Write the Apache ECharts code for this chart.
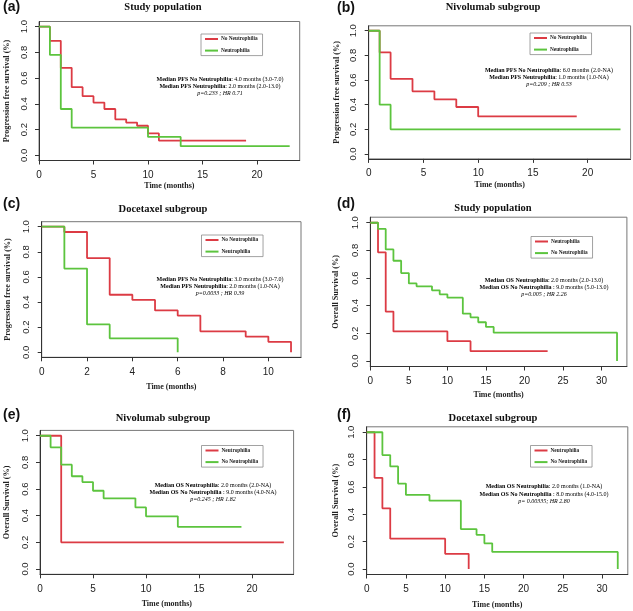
<!DOCTYPE html>
<html>
<head>
<meta charset="utf-8">
<script src="https://cdn.jsdelivr.net/npm/echarts@6/dist/echarts.min.js"></script>
<style>
html,body{margin:0;padding:0;background:#fff;}
#chart{width:633px;height:611px;}
</style>
</head>
<body>
<div id="chart"></div>
<script>
// ---- Data: Kaplan-Meier steps [time (months), survival] ----
const pfsStudyNoNeut = [[0,1],[1,0.89],[2,0.68],[3,0.53],[4,0.46],[5,0.41],[6,0.36],[7,0.28],[8,0.255],[9,0.23],[10,0.17],[11,0.115],[19,0.115]];
const pfsStudyNeut   = [[0,1],[1,0.78],[2,0.36],[3,0.215],[10,0.143],[13,0.071],[23,0.071]];
const pfsNivoNoNeut  = [[0,1],[1,0.824],[2,0.61],[4,0.508],[6,0.443],[8,0.381],[10,0.305],[19,0.305]];
const pfsNivoNeut    = [[0,1],[1,0.4],[2,0.2],[23,0.2]];
const pfsDoceNoNeut  = [[0,1],[1,0.958],[2,0.75],[3,0.458],[4,0.417],[5,0.333],[6,0.292],[7,0.167],[9,0.125],[10,0.083],[11,0]];
const pfsDoceNeut    = [[0,1],[1,0.667],[2,0.222],[3,0.111],[6,0]];
const osStudyNeut    = [[0,1],[1,0.786],[2,0.357],[3,0.214],[10,0.143],[13,0.071],[23,0.071]];
const osStudyNoNeut  = [[0,1],[1,0.955],[2,0.807],[3,0.725],[4,0.636],[5,0.561],[6,0.54],[8,0.511],[9,0.482],[10,0.458],[12,0.342],[13,0.316],[14,0.28],[15,0.246],[16,0.205],[32,0]];
const osNivoNeut     = [[0,1],[2,0.2],[23,0.2]];
const osNivoNoNeut   = [[0,1],[1,0.913],[2,0.783],[3,0.696],[4,0.652],[5,0.587],[6,0.53],[9,0.462],[10,0.395],[13,0.316],[19,0.316]];
const osDoceNeut     = [[0,1],[1,0.667],[2,0.444],[3,0.222],[10,0.111],[13,0]];
const osDoceNoNeut   = [[0,1],[2,0.833],[3,0.75],[4,0.625],[5,0.542],[8,0.5],[12,0.292],[14,0.25],[15,0.188],[16,0.125],[32,0]];

// ---- Tick labels ----
const xTicks23 = [0,5,10,15,20];
const xTicks11 = [0,2,4,6,8,10];
const xTicks32 = [0,5,10,15,20,25,30];
const yTicks = [0,0.2,0.4,0.6,0.8,1.0];
const xMaxTime = [23, 23, 11, 32, 23, 32];

// ---- Text ----
const panelLabels = ['(a)','(b)','(c)','(d)','(e)','(f)'];
const panelTitles = ['Study population','Nivolumab subgroup','Docetaxel subgroup','Study population','Nivolumab subgroup','Docetaxel subgroup'];
const yNames = ['Progression free survival (%)','Progression free survival (%)','Progression free survival (%)','Overall Survival (%)','Overall Survival (%)','Overall Survival (%)'];
const xName = 'Time (months)';
const legendNames = [
  ['No Neutrophilia','Neutrophilia'],['No Neutrophilia','Neutrophilia'],['No Neutrophilia','Neutrophilia'],
  ['Neutrophilia','No Neutrophilia'],['Neutrophilia','No Neutrophilia'],['Neutrophilia','No Neutrophilia']
];
const annotBold = [
  ['Median PFS No Neutrophilia','Median PFS Neutrophilia'],
  ['Median PFS No Neutrophilia','Median PFS Neutrophilia'],
  ['Median PFS No Neutrophilia','Median PFS Neutrophilia'],
  ['Median OS Neutrophilia','Median OS No Neutrophilia '],
  ['Median OS Neutrophilia','Median OS No Neutrophilia '],
  ['Median OS Neutrophilia','Median OS No Neutrophilia ']
];
const annotRest = [
  [': 4.0 months (3.0-7.0)',': 2.0 months (2.0-13.0)'],
  [': 6.0 months (2.0-NA)',': 1.0 months (1.0-NA)'],
  [': 3.0 months (3.0-7.0)',': 2.0 months (1.0-NA)'],
  [': 2.0 months (2.0-13.0)',': 9.0 months (5.0-13.0)'],
  [': 2.0 months (2.0-NA)',': 9.0 months (4.0-NA)'],
  [': 2.0 months (1.0-NA)',': 8.0 months (4.0-15.0)']
];
const annotStats = ['p=0.233 ; HR 0.71','p=0.209 ; HR 0.53','p=0.0033 ; HR 0.39','p=0.005 ; HR 2.26','p=0.245 ; HR 1.82','p= 0.00335; HR 2.80'];

const RED = '#dc3b44';
const GREEN = '#5cc43e';
const SERIF = '"Liberation Serif","DejaVu Serif",serif';
const SANS = '"Liberation Sans",Arial,sans-serif';

// ---- Layout (pixels) ----
const layout = [
  {left:39,   top:21.5,  width:260.7, height:139,   ticks:xTicks23, xGap:21,   yGap:28, title:[163,7],   label:[3,8],    legend:[201,34],  annot:[220,79.3]},
  {left:368.7,top:25.8,  width:261.9, height:133.1, ticks:xTicks23, xGap:22.5, yGap:28, title:[493,7],   label:[337,9],  legend:[530,33],  annot:[549,70]},
  {left:41.7, top:221.7, width:259.3, height:135.6, ticks:xTicks11, xGap:26,   yGap:30, title:[163,209], label:[3,205],  legend:[201.5,235], annot:[220,279.3]},
  {left:370.3,top:217.2, width:256.6, height:149.3, ticks:xTicks32, xGap:24,   yGap:30, title:[493,208], label:[337,205],legend:[531,236.5], annot:[544,280.3]},
  {left:40,   top:430.4, width:253.6, height:143.9, ticks:xTicks23, xGap:26,   yGap:29, title:[163,418], label:[3,416],  legend:[201.5,445.5], annot:[213,485.3]},
  {left:366.7,top:426.8, width:261.1, height:147.7, ticks:xTicks32, xGap:26,   yGap:27, title:[493,418], label:[337,416],legend:[530.5,445.5], annot:[544,486.7]}
];

const seriesData = [
  [{name:'No Neutrophilia',data:pfsStudyNoNeut,color:RED},{name:'Neutrophilia',data:pfsStudyNeut,color:GREEN}],
  [{name:'No Neutrophilia',data:pfsNivoNoNeut,color:RED},{name:'Neutrophilia',data:pfsNivoNeut,color:GREEN}],
  [{name:'No Neutrophilia',data:pfsDoceNoNeut,color:RED},{name:'Neutrophilia',data:pfsDoceNeut,color:GREEN}],
  [{name:'Neutrophilia',data:osStudyNeut,color:RED},{name:'No Neutrophilia',data:osStudyNoNeut,color:GREEN}],
  [{name:'Neutrophilia',data:osNivoNeut,color:RED},{name:'No Neutrophilia',data:osNivoNoNeut,color:GREEN}],
  [{name:'Neutrophilia',data:osDoceNeut,color:RED},{name:'No Neutrophilia',data:osDoceNoNeut,color:GREEN}]
];

const grids = [], xAxes = [], yAxes = [], series = [], legends = [], graphics = [];

layout.forEach((L, i) => {
  grids.push({left:L.left, top:L.top, width:L.width, height:L.height, show:true,
    borderColor:'#777', borderWidth:1, backgroundColor:'transparent', containLabel:false});
  xAxes.push({type:'value', gridIndex:i, min:0, max:xMaxTime[i]*1.04,
    name:xName, nameLocation:'middle', nameGap:L.xGap,
    nameTextStyle:{fontFamily:SERIF, fontWeight:'bold', fontSize:8, color:'#222'},
    axisLine:{show:true, onZero:false, lineStyle:{color:'#333', width:1}},
    axisTick:{show:true, inside:false, length:4, customValues:L.ticks, lineStyle:{color:'#333'}},
    axisLabel:{show:true, margin:9.5, customValues:L.ticks, fontFamily:SANS, fontSize:10, color:'#222'},
    splitLine:{show:false}});
  yAxes.push({type:'value', gridIndex:i, min:-0.04, max:1.04,
    name:yNames[i], nameLocation:'middle', nameGap:L.yGap, nameRotate:90,
    nameTextStyle:{fontFamily:SERIF, fontWeight:'bold', fontSize:8.2, color:'#222'},
    axisLine:{show:true, onZero:false, lineStyle:{color:'#333', width:1}},
    axisTick:{show:true, inside:false, length:4, customValues:yTicks, lineStyle:{color:'#333'}},
    axisLabel:{show:true, margin:10, rotate:90, customValues:yTicks, fontFamily:SANS, fontSize:9.5, color:'#222',
      formatter:(v)=>v.toFixed(1)},
    splitLine:{show:false}});
  seriesData[i].forEach(s => {
    series.push({type:'line', name:s.name, xAxisIndex:i, yAxisIndex:i, data:s.data, step:'end',
      showSymbol:false, symbol:'none', silent:true, clip:false, animation:false,
      lineStyle:{color:s.color, width:1.8}, itemStyle:{color:s.color}});
  });
  legends.push({left:L.legend[0], top:L.legend[1], orient:'vertical', icon:'rect',
    itemWidth:13, itemHeight:2, itemGap:5.6, padding:[2,5,2,4], borderColor:'#8a8a8a', borderWidth:0.8,
    selectedMode:false,
    textStyle:{fontFamily:SERIF, fontWeight:'bold', fontSize:5.3, lineHeight:6, color:'#222', padding:[0,0,0,-2]},
    data:legendNames[i].map((n, k) => ({name:n, icon:'rect', itemStyle:{color:seriesData[i][k].color}}))});
  // panel label
  graphics.push({type:'text', left:L.label[0], top:L.label[1]-8,
    style:{text:panelLabels[i], font:'bold 14px '+SANS, fill:'#111'}});
  // title
  graphics.push({type:'text', x:L.title[0], y:L.title[1],
    style:{text:panelTitles[i], font:'bold 10.5px '+SERIF, fill:'#111', align:'center', verticalAlign:'middle', textAlign:'center', textVerticalAlign:'middle'}});
  // annotation
  const rich = {
    b:{fontFamily:SERIF, fontWeight:'bold', fontSize:6, color:'#222'},
    n:{fontFamily:SERIF, fontSize:6, color:'#333'},
    it:{fontFamily:SERIF, fontStyle:'italic', fontSize:6, color:'#555'}
  };
  const lines = [
    '{b|' + annotBold[i][0] + '}{n|' + annotRest[i][0] + '}',
    '{b|' + annotBold[i][1] + '}{n|' + annotRest[i][1] + '}',
    '{it|' + annotStats[i] + '}'
  ];
  lines.forEach((t, k) => {
    graphics.push({type:'text', x:L.annot[0], y:L.annot[1] + k*7.3,
      style:{text:t, rich:rich, align:'center', verticalAlign:'middle', textAlign:'center', textVerticalAlign:'middle'}});
  });
});

const chart = echarts.init(document.getElementById('chart'), null, {renderer:'canvas'});
chart.setOption({
  animation:false,
  backgroundColor:'#fff',
  grid:grids, xAxis:xAxes, yAxis:yAxes, series:series, legend:legends, graphic:graphics,
  tooltip:{show:false}
});
</script>
</body>
</html>
